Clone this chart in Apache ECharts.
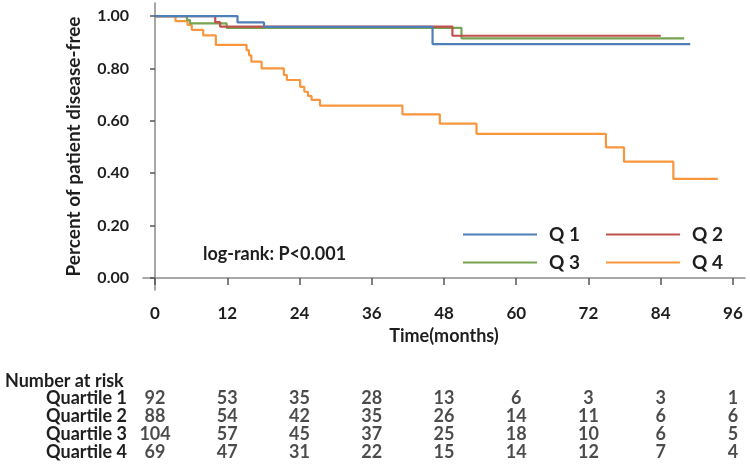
<!DOCTYPE html>
<html>
<head>
<meta charset="utf-8">
<script src="https://cdn.jsdelivr.net/npm/echarts@6/dist/echarts.min.js"></script>
<style>
html,body{margin:0;padding:0;background:#fff;}
#chart{width:750px;height:466px;}
</style>
</head>
<body>
<div id="chart"></div>
<script>
// ---- data ----
var seriesNames = ['Q 1', 'Q 2', 'Q 3', 'Q 4'];
var q1Times = [0, 13.7, 18.1, 46.1, 88.9];
var q1Surv  = [1, 0.976, 0.959, 0.893, 0.893];
var q2Times = [0, 10.0, 10.8, 49.4, 84.0];
var q2Surv  = [1, 0.977, 0.960, 0.925, 0.925];
var q3Times = [0, 5.3, 5.8, 11.9, 50.9, 87.9];
var q3Surv  = [1, 0.985, 0.972, 0.955, 0.915, 0.915];
var q4Times = [0, 3.4, 5.4, 6.1, 8.0, 10.1, 15.2, 15.6, 16.0, 17.7, 21.4, 21.9, 24.1, 24.8, 25.4, 26.0, 27.4, 41.1, 47.3, 53.4, 74.9, 77.9, 86.1, 93.5];
var q4Surv  = [1, 0.981, 0.966, 0.947, 0.926, 0.890, 0.870, 0.850, 0.826, 0.800, 0.775, 0.756, 0.730, 0.711, 0.695, 0.680, 0.658, 0.625, 0.589, 0.550, 0.499, 0.444, 0.378, 0.378];

var xTicks = [0, 12, 24, 36, 48, 60, 72, 84, 96];
var yTicks = [0, 0.2, 0.4, 0.6, 0.8, 1.0];

var riskRows = ['Quartile 1', 'Quartile 2', 'Quartile 3', 'Quartile 4'];
var riskQ1 = [92, 53, 35, 28, 13, 6, 3, 3, 1];
var riskQ2 = [88, 54, 42, 35, 26, 14, 11, 6, 6];
var riskQ3 = [104, 57, 45, 37, 25, 18, 10, 6, 5];
var riskQ4 = [69, 47, 31, 22, 15, 14, 12, 7, 4];

var colors = ['#4f7fb8', '#c0504d', '#77a352', '#f7963c'];
// ---- build ----
var FONT = 'Lato';
var TXT = '#1e1e1e';
function pts(t, s) { return t.map(function (v, i) { return [v, s[i]]; }); }
var curves = [pts(q1Times, q1Surv), pts(q2Times, q2Surv), pts(q3Times, q3Surv), pts(q4Times, q4Surv)];
var risk = [riskQ1, riskQ2, riskQ3, riskQ4];
var riskData = [];
risk.forEach(function (row, r) {
  row.forEach(function (n, j) { riskData.push([xTicks[j], riskRows[r], n]); });
});

var series = curves.map(function (d, i) {
  return {
    name: seriesNames[i], type: 'line', step: 'end', data: d,
    xAxisIndex: 0, yAxisIndex: 0,
    showSymbol: false, symbol: 'none', silent: true,
    lineStyle: { color: colors[i], width: 2.2 }, itemStyle: { color: colors[i] },
    z: 10 - i
  };
});
series.push({
  type: 'scatter', xAxisIndex: 1, yAxisIndex: 1, data: riskData,
  symbolSize: 0, silent: true,
  label: { show: true, position: 'inside', formatter: function (p) { return p.data[2]; },
    fontFamily: FONT, fontWeight: 'bold', fontSize: 18, color: TXT }
});

var legendCommon = {
  icon: 'rect', itemWidth: 74, itemHeight: 2, itemGap: 26,
  textStyle: { fontFamily: FONT, fontWeight: 'bold', fontSize: 19, color: TXT, padding: [0, 0, 0, 7] },
  left: 458
};

var chart = echarts.init(document.getElementById('chart'), null, { renderer: 'canvas' });
chart.setOption({
  animation: false,
  backgroundColor: '#fff',
  grid: [
    { left: 143, right: 5, top: 3, height: 287 },
    { left: 143, right: 5, top: 389, height: 72 }
  ],
  xAxis: [
    { type: 'value', gridIndex: 0, min: -2, max: 98,
      name: 'Time(months)', nameLocation: 'middle', nameGap: 34,
      nameTextStyle: { fontFamily: FONT, fontWeight: 'bold', fontSize: 18, color: TXT },
      axisLine: { show: true, lineStyle: { color: '#8a8a8a', width: 1.5 } },
      axisTick: { show: true, length: 7, customValues: xTicks, lineStyle: { color: '#555', width: 1.5 } },
      axisLabel: { customValues: xTicks, margin: 15, fontFamily: FONT, fontWeight: 'bold', fontSize: 17, color: TXT },
      splitLine: { show: false } },
    { type: 'value', gridIndex: 1, min: -2, max: 98, show: false }
  ],
  yAxis: [
    { type: 'value', gridIndex: 0, min: -0.046, max: 1.05,
      name: 'Percent of patient disease-free', nameLocation: 'middle', nameGap: 60, nameRotate: 90,
      nameTextStyle: { fontFamily: FONT, fontWeight: 'bold', fontSize: 19, color: TXT },
      axisLine: { show: true, lineStyle: { color: '#8a8a8a', width: 1.5 } },
      axisTick: { show: true, length: 5, customValues: yTicks, lineStyle: { color: '#555', width: 1.5 } },
      axisLabel: { customValues: yTicks, margin: 14, fontFamily: FONT, fontWeight: 'bold', fontSize: 16, color: TXT,
        formatter: function (v) { return v.toFixed(2); } },
      splitLine: { show: false } },
    { type: 'category', gridIndex: 1, data: riskRows, inverse: true,
      axisLine: { show: false }, axisTick: { show: false },
      axisLabel: { interval: 0, margin: 16, fontFamily: FONT, fontWeight: 'bold', fontSize: 18, color: TXT } }
  ],
  legend: [
    Object.assign({}, legendCommon, { data: [seriesNames[0], seriesNames[1]], top: 220 }),
    Object.assign({}, legendCommon, { data: [seriesNames[2], seriesNames[3]], top: 248 })
  ],
  graphic: [
    { type: 'text', left: 203, top: 245, style: { text: 'log-rank: P<0.001', font: 'bold 18px Lato', fill: TXT } },
    { type: 'text', left: 5, top: 372, style: { text: 'Number at risk', font: 'bold 18px Lato', fill: TXT } }
  ],
  series: series
});
</script>
</body>
</html>
